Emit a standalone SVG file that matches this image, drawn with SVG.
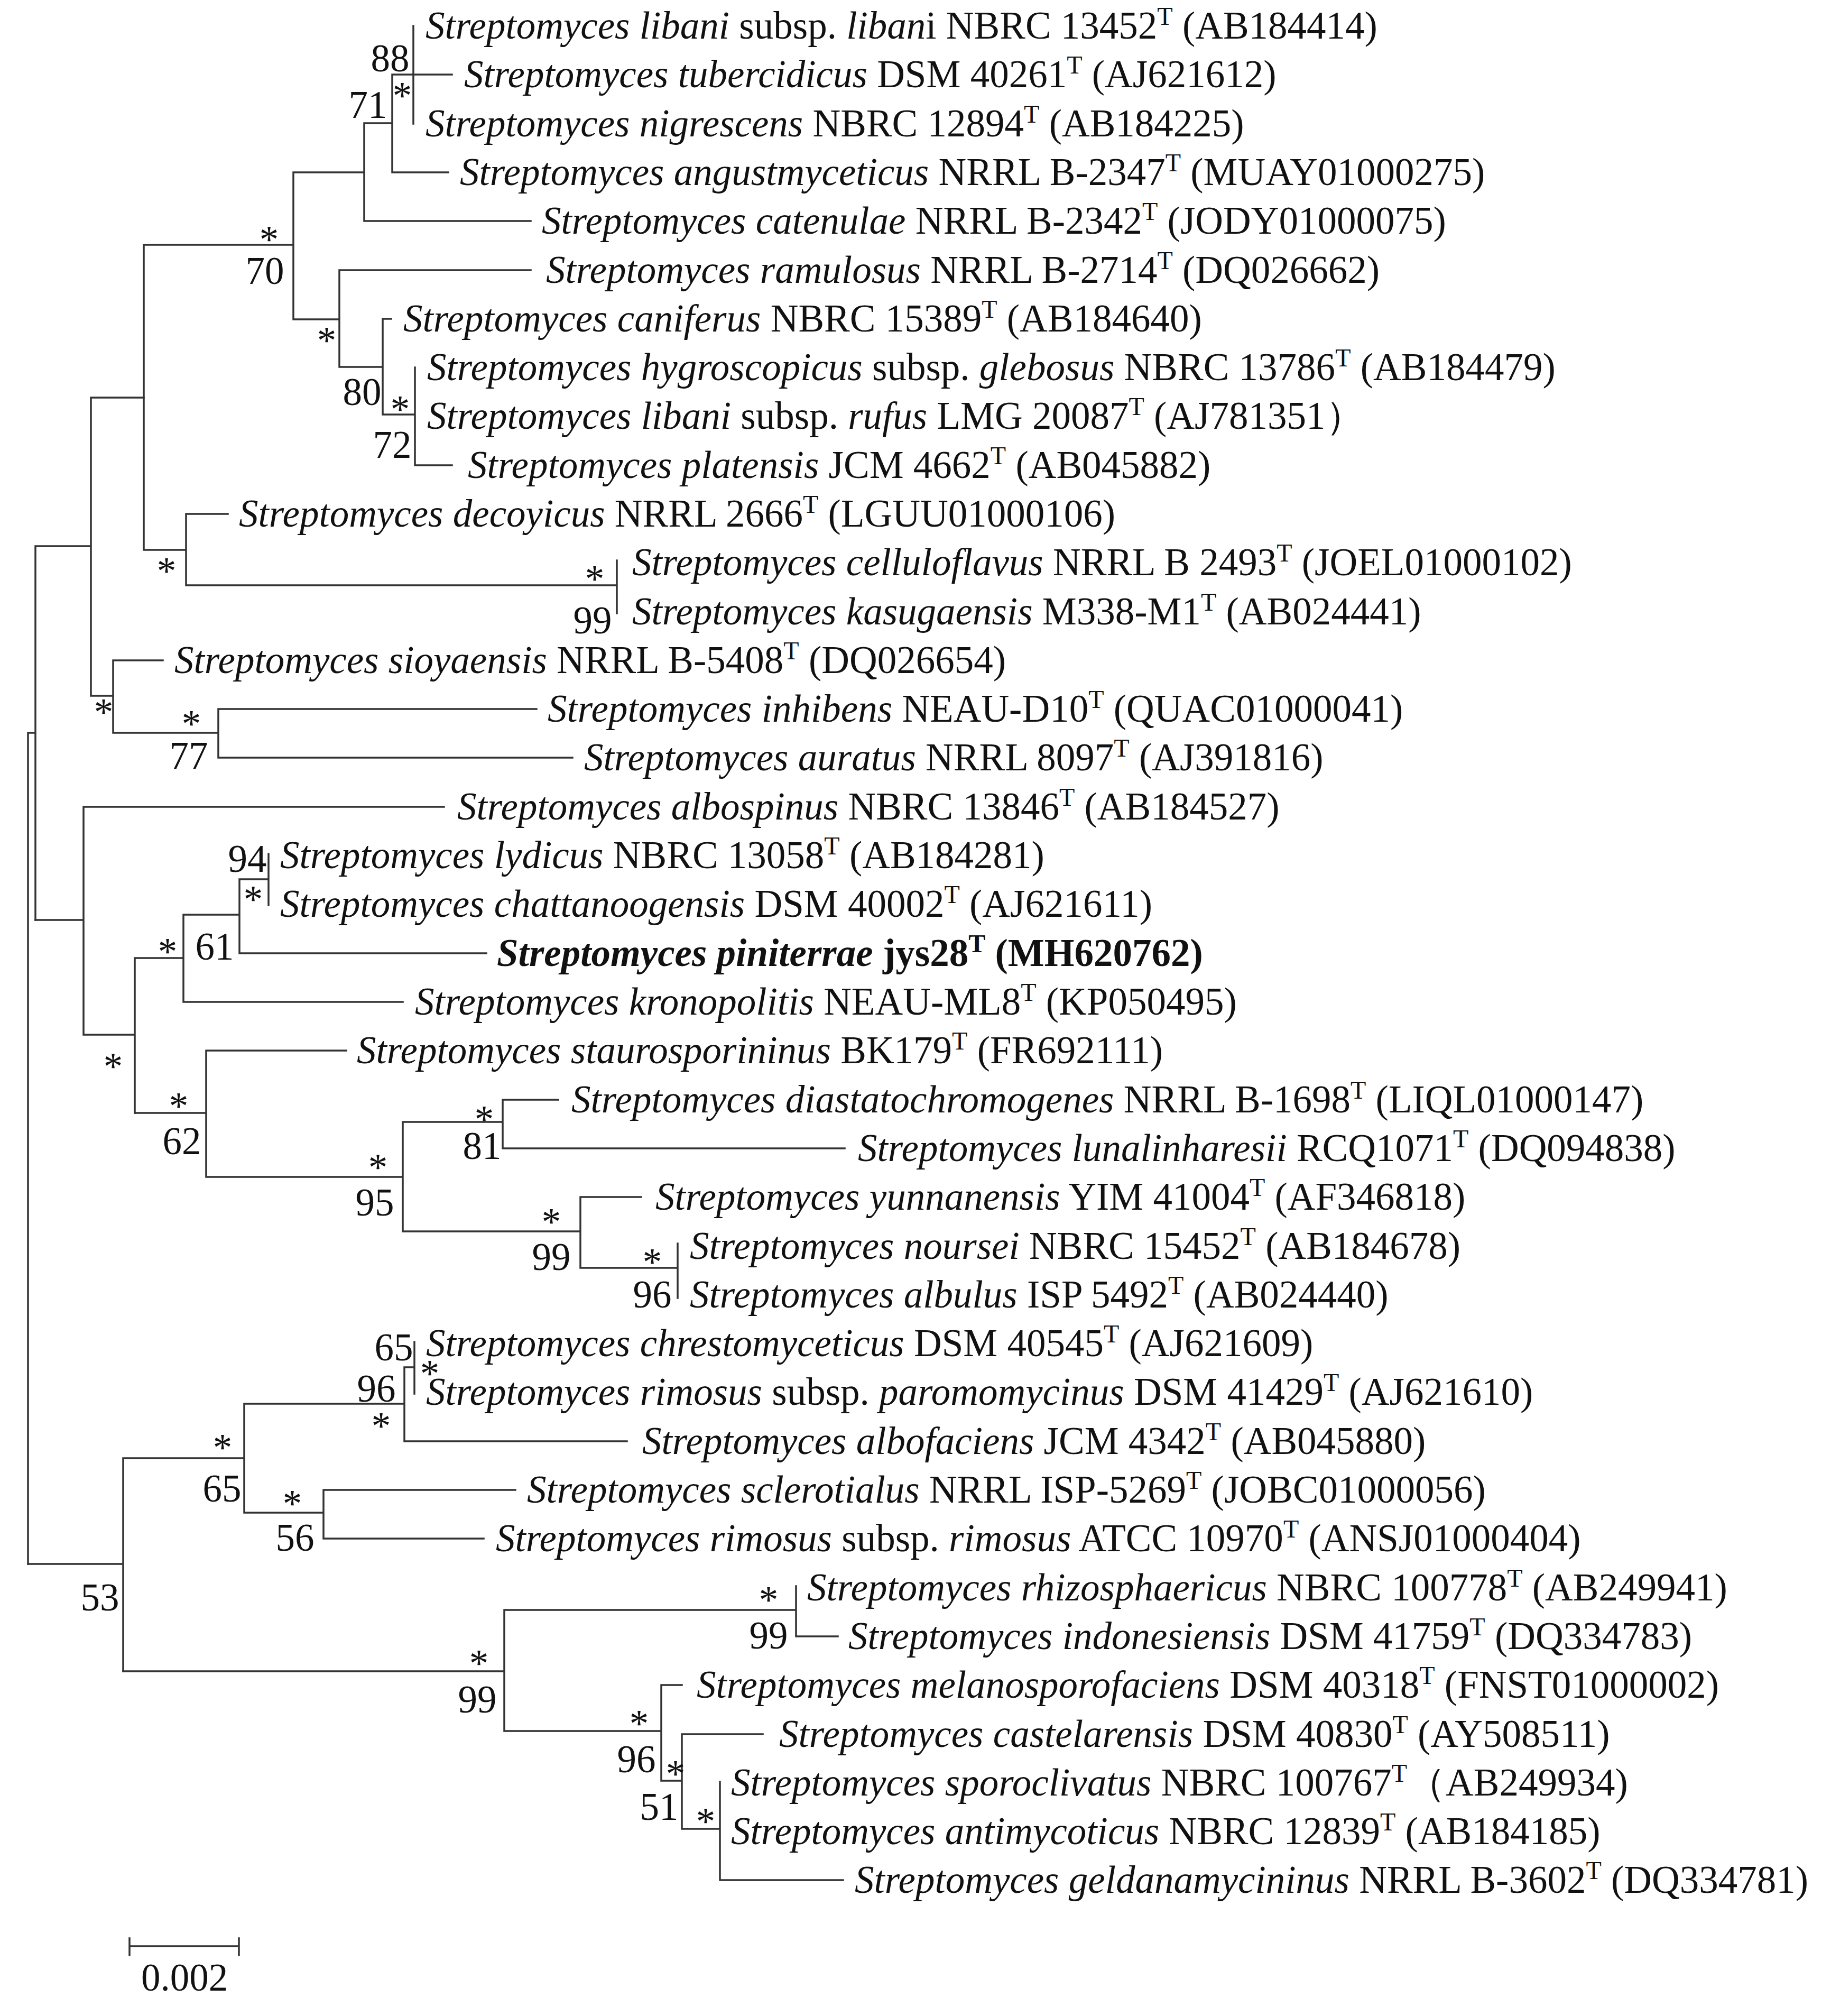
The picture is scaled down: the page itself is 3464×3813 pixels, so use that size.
<svg xmlns="http://www.w3.org/2000/svg" width="3464" height="3813" viewBox="0 0 3464 3813">
<style>
text{font-family:"Liberation Serif","Times New Roman",serif;font-size:73px;fill:#111}
.i{font-style:italic}
.b{font-weight:bold}
.s{font-size:48px}
.l{text-anchor:middle}
.e{fill:none;stroke:#333;stroke-width:3.5;stroke-linecap:square}
</style>
<rect width="3464" height="3813" fill="#fff"/>
<g id="connectors" class="e">
<path d="M782 49V234M742 141H855M742 141V326M742 326H848M689 233H742M689 233V418M689 418H1004M555 326H689M555 326V604M272 463H555M555 604H642M642 511V694M642 511H1004M642 694H724M724 603V784M724 603H740M724 784H785M785 695V880M785 880H855M272 463V1040M272 1040H352M352 972V1107M352 972H431M352 1107H1167M1167 1060V1160"/>
<path d="M172 752H272M172 752V1316M172 1316H214M214 1249V1386M214 1249H308M214 1386H413M413 1341V1433M413 1341H1015M413 1433H1083M67 1033H172M67 1033V1740M53 1386H67M53 1386V2958"/>
<path d="M67 1740H158M158 1526V1957M158 1526H840M158 1957H255M255 1812V2105M255 1812H347M347 1730V1895M347 1895H762M347 1730H453M453 1663V1803M453 1803H920M453 1663H508M508 1615V1712"/>
<path d="M255 2105H390M390 1987V2226M390 1987H655M390 2226H762M762 2122V2329M762 2122H951M951 2080V2172M951 2080H1056M951 2172H1598M762 2329H1098M1098 2264V2398M1098 2264H1213M1098 2398H1282M1282 2352V2455"/>
<path d="M53 2958H233M233 2758V3161M233 2758H462M462 2655V2861M462 2655H765M765 2586V2726M765 2586H784M784 2538V2636M765 2726H1186M462 2861H612M612 2818V2910M612 2818H975M612 2910H915"/>
<path d="M233 3161H954M954 3045V3274M954 3045H1506M1506 3000V3095M1506 3095H1585M954 3274H1251M1251 3187V3368M1251 3187H1290M1251 3368H1290M1290 3280V3459M1290 3280H1443M1290 3459H1362M1362 3370V3556M1362 3556H1595"/>
<path d="M245 3681H452M245 3666V3698M452 3666V3698"/>
</g>
<g id="support">
<text class="l" x="738" y="135">88</text><text class="l" x="761" y="206">*</text><text class="l" x="696" y="223">71</text>
<text class="l" x="509" y="478">*</text><text class="l" x="501" y="537">70</text><text class="l" x="618" y="669">*</text>
<text class="l" x="685" y="766">80</text><text class="l" x="757" y="799">*</text><text class="l" x="742" y="866">72</text>
<text class="l" x="315" y="1105">*</text><text class="l" x="1125" y="1120">*</text><text class="l" x="1121" y="1198">99</text>
<text class="l" x="196" y="1372">*</text><text class="l" x="362" y="1394">*</text><text class="l" x="357" y="1454">77</text>
<text class="l" x="468" y="1649">94</text><text class="l" x="479" y="1726">*</text><text class="l" x="406" y="1815">61</text><text class="l" x="317" y="1825">*</text>
<text class="l" x="214" y="2042">*</text><text class="l" x="338" y="2117">*</text><text class="l" x="344" y="2183">62</text>
<text class="l" x="715" y="2233">*</text><text class="l" x="709" y="2299">95</text><text class="l" x="916" y="2142">*</text><text class="l" x="912" y="2192">81</text>
<text class="l" x="1043" y="2336">*</text><text class="l" x="1043" y="2402">99</text><text class="l" x="1234" y="2412">*</text><text class="l" x="1234" y="2473">96</text>
<text class="l" x="745" y="2573">65</text><text class="l" x="813" y="2623">*</text><text class="l" x="712" y="2651">96</text><text class="l" x="721" y="2722">*</text>
<text class="l" x="421" y="2763">*</text><text class="l" x="420" y="2840">65</text><text class="l" x="553" y="2869">*</text><text class="l" x="558" y="2933">56</text>
<text class="l" x="189" y="3046">53</text><text class="l" x="906" y="3171">*</text><text class="l" x="903" y="3239">99</text>
<text class="l" x="1454" y="3051">*</text><text class="l" x="1454" y="3118">99</text><text class="l" x="1209" y="3285">*</text><text class="l" x="1204" y="3352">96</text>
<text class="l" x="1278" y="3380">*</text><text class="l" x="1247" y="3442">51</text><text class="l" x="1335" y="3470">*</text>
</g>
<g id="leaf0"><text x="805" y="73"><tspan class="i">Streptomyces libani</tspan> subsp. <tspan class="i">liban</tspan>i NBRC 13452<tspan class="s" dy="-26">T</tspan><tspan dy="26"> (AB184414)</tspan></text></g>
<g id="leaf1"><text x="878" y="165"><tspan class="i">Streptomyces tubercidicus</tspan> DSM 40261<tspan class="s" dy="-26">T</tspan><tspan dy="26"> (AJ621612)</tspan></text></g>
<g id="leaf2"><text x="805" y="258"><tspan class="i">Streptomyces nigrescens</tspan> NBRC 12894<tspan class="s" dy="-26">T</tspan><tspan dy="26"> (AB184225)</tspan></text></g>
<g id="leaf3"><text x="870" y="350"><tspan class="i">Streptomyces angustmyceticus</tspan> NRRL B-2347<tspan class="s" dy="-26">T</tspan><tspan dy="26"> (MUAY01000275)</tspan></text></g>
<g id="leaf4"><text x="1025" y="442"><tspan class="i">Streptomyces catenulae</tspan> NRRL B-2342<tspan class="s" dy="-26">T</tspan><tspan dy="26"> (JODY01000075)</tspan></text></g>
<g id="leaf5"><text x="1033" y="535"><tspan class="i">Streptomyces ramulosus</tspan> NRRL B-2714<tspan class="s" dy="-26">T</tspan><tspan dy="26"> (DQ026662)</tspan></text></g>
<g id="leaf6"><text x="763" y="627"><tspan class="i">Streptomyces caniferus</tspan> NBRC 15389<tspan class="s" dy="-26">T</tspan><tspan dy="26"> (AB184640)</tspan></text></g>
<g id="leaf7"><text x="808" y="719"><tspan class="i">Streptomyces hygroscopicus</tspan> subsp. <tspan class="i">glebosus</tspan> NBRC 13786<tspan class="s" dy="-26">T</tspan><tspan dy="26"> (AB184479)</tspan></text></g>
<g id="leaf8"><text x="808" y="811"><tspan class="i">Streptomyces libani</tspan> subsp. <tspan class="i">rufus</tspan> LMG 20087<tspan class="s" dy="-26">T</tspan><tspan dy="26"> (AJ781351）</tspan></text></g>
<g id="leaf9"><text x="885" y="904"><tspan class="i">Streptomyces platensis</tspan> JCM 4662<tspan class="s" dy="-26">T</tspan><tspan dy="26"> (AB045882)</tspan></text></g>
<g id="leaf10"><text x="452" y="996"><tspan class="i">Streptomyces decoyicus</tspan> NRRL 2666<tspan class="s" dy="-26">T</tspan><tspan dy="26"> (LGUU01000106)</tspan></text></g>
<g id="leaf11"><text x="1196" y="1088"><tspan class="i">Streptomyces celluloflavus</tspan> NRRL B 2493<tspan class="s" dy="-26">T</tspan><tspan dy="26"> (JOEL01000102)</tspan></text></g>
<g id="leaf12"><text x="1196" y="1181"><tspan class="i">Streptomyces kasugaensis</tspan> M338-M1<tspan class="s" dy="-26">T</tspan><tspan dy="26"> (AB024441)</tspan></text></g>
<g id="leaf13"><text x="330" y="1273"><tspan class="i">Streptomyces sioyaensis</tspan> NRRL B-5408<tspan class="s" dy="-26">T</tspan><tspan dy="26"> (DQ026654)</tspan></text></g>
<g id="leaf14"><text x="1036" y="1365"><tspan class="i">Streptomyces inhibens</tspan> NEAU-D10<tspan class="s" dy="-26">T</tspan><tspan dy="26"> (QUAC01000041)</tspan></text></g>
<g id="leaf15"><text x="1105" y="1457"><tspan class="i">Streptomyces auratus</tspan> NRRL 8097<tspan class="s" dy="-26">T</tspan><tspan dy="26"> (AJ391816)</tspan></text></g>
<g id="leaf16"><text x="865" y="1550"><tspan class="i">Streptomyces albospinus</tspan> NBRC 13846<tspan class="s" dy="-26">T</tspan><tspan dy="26"> (AB184527)</tspan></text></g>
<g id="leaf17"><text x="530" y="1642"><tspan class="i">Streptomyces lydicus</tspan> NBRC 13058<tspan class="s" dy="-26">T</tspan><tspan dy="26"> (AB184281)</tspan></text></g>
<g id="leaf18"><text x="530" y="1734"><tspan class="i">Streptomyces chattanoogensis</tspan> DSM 40002<tspan class="s" dy="-26">T</tspan><tspan dy="26"> (AJ621611)</tspan></text></g>
<g id="leaf19"><text x="940" y="1827" class="b"><tspan class="i">Streptomyces piniterrae</tspan> jys28<tspan class="s" dy="-26">T</tspan><tspan dy="26"> (MH620762)</tspan></text></g>
<g id="leaf20"><text x="785" y="1919"><tspan class="i">Streptomyces kronopolitis</tspan> NEAU-ML8<tspan class="s" dy="-26">T</tspan><tspan dy="26"> (KP050495)</tspan></text></g>
<g id="leaf21"><text x="675" y="2011"><tspan class="i">Streptomyces staurosporininus</tspan> BK179<tspan class="s" dy="-26">T</tspan><tspan dy="26"> (FR692111)</tspan></text></g>
<g id="leaf22"><text x="1081" y="2104"><tspan class="i">Streptomyces diastatochromogenes</tspan> NRRL B-1698<tspan class="s" dy="-26">T</tspan><tspan dy="26"> (LIQL01000147)</tspan></text></g>
<g id="leaf23"><text x="1623" y="2196"><tspan class="i">Streptomyces lunalinharesii</tspan> RCQ1071<tspan class="s" dy="-26">T</tspan><tspan dy="26"> (DQ094838)</tspan></text></g>
<g id="leaf24"><text x="1240" y="2288"><tspan class="i">Streptomyces yunnanensis</tspan> YIM 41004<tspan class="s" dy="-26">T</tspan><tspan dy="26"> (AF346818)</tspan></text></g>
<g id="leaf25"><text x="1305" y="2381"><tspan class="i">Streptomyces noursei</tspan> NBRC 15452<tspan class="s" dy="-26">T</tspan><tspan dy="26"> (AB184678)</tspan></text></g>
<g id="leaf26"><text x="1305" y="2473"><tspan class="i">Streptomyces albulus</tspan> ISP 5492<tspan class="s" dy="-26">T</tspan><tspan dy="26"> (AB024440)</tspan></text></g>
<g id="leaf27"><text x="806" y="2565"><tspan class="i">Streptomyces chrestomyceticus</tspan> DSM 40545<tspan class="s" dy="-26">T</tspan><tspan dy="26"> (AJ621609)</tspan></text></g>
<g id="leaf28"><text x="806" y="2657"><tspan class="i">Streptomyces rimosus</tspan> subsp. <tspan class="i">paromomycinus</tspan> DSM 41429<tspan class="s" dy="-26">T</tspan><tspan dy="26"> (AJ621610)</tspan></text></g>
<g id="leaf29"><text x="1215" y="2750"><tspan class="i">Streptomyces albofaciens</tspan> JCM 4342<tspan class="s" dy="-26">T</tspan><tspan dy="26"> (AB045880)</tspan></text></g>
<g id="leaf30"><text x="997" y="2842"><tspan class="i">Streptomyces sclerotialus</tspan> NRRL ISP-5269<tspan class="s" dy="-26">T</tspan><tspan dy="26"> (JOBC01000056)</tspan></text></g>
<g id="leaf31"><text x="938" y="2934"><tspan class="i">Streptomyces rimosus</tspan> subsp. <tspan class="i">rimosus</tspan> ATCC 10970<tspan class="s" dy="-26">T</tspan><tspan dy="26"> (ANSJ01000404)</tspan></text></g>
<g id="leaf32"><text x="1527" y="3027"><tspan class="i">Streptomyces rhizosphaericus</tspan> NBRC 100778<tspan class="s" dy="-26">T</tspan><tspan dy="26"> (AB249941)</tspan></text></g>
<g id="leaf33"><text x="1605" y="3119"><tspan class="i">Streptomyces indonesiensis</tspan> DSM 41759<tspan class="s" dy="-26">T</tspan><tspan dy="26"> (DQ334783)</tspan></text></g>
<g id="leaf34"><text x="1318" y="3211"><tspan class="i">Streptomyces melanosporofaciens</tspan> DSM 40318<tspan class="s" dy="-26">T</tspan><tspan dy="26"> (FNST01000002)</tspan></text></g>
<g id="leaf35"><text x="1474" y="3304"><tspan class="i">Streptomyces castelarensis</tspan> DSM 40830<tspan class="s" dy="-26">T</tspan><tspan dy="26"> (AY508511)</tspan></text></g>
<g id="leaf36"><text x="1383" y="3396"><tspan class="i">Streptomyces sporoclivatus</tspan> NBRC 100767<tspan class="s" dy="-26">T</tspan><tspan dy="26">（AB249934)</tspan></text></g>
<g id="leaf37"><text x="1383" y="3488"><tspan class="i">Streptomyces antimycoticus</tspan> NBRC 12839<tspan class="s" dy="-26">T</tspan><tspan dy="26"> (AB184185)</tspan></text></g>
<g id="leaf38"><text x="1617" y="3580"><tspan class="i">Streptomyces geldanamycininus</tspan> NRRL B-3602<tspan class="s" dy="-26">T</tspan><tspan dy="26"> (DQ334781)</tspan></text></g>
<g id="scale"><text class="l" x="349" y="3765">0.002</text></g>
</svg>
